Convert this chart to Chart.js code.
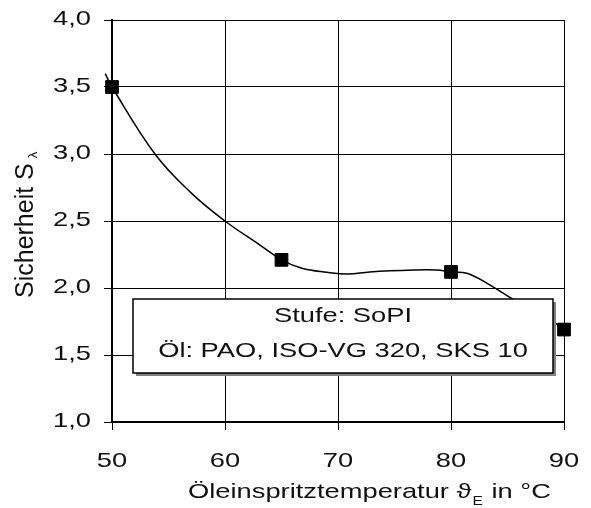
<!DOCTYPE html>
<html>
<head>
<meta charset="utf-8">
<script src="https://cdn.jsdelivr.net/npm/chart.js@4/dist/chart.umd.min.js"></script>
<style>
  html, body { margin: 0; padding: 0; background: #fff; }
  #wrap { width: 591px; height: 508px; }
</style>
</head>
<body>
<div id="wrap"><canvas id="myChart" width="591" height="508"></canvas></div>
<script>
// measured points (Oeleinspritztemperatur vs. Sicherheit)
const tempPoints = [50, 65, 80, 90];
const safetyPoints = [3.5, 2.21, 2.12, 1.69];

// trend curve drawn through the measurements
const curveTemps = [49.4, 50.0, 53.8, 57.0, 60.0, 63.1, 65.0, 66.8, 69.0, 70.9, 72.8, 76.7, 78.7, 80.0, 81.4, 83.2, 85.4, 89.6];
const curveSafety = [3.6, 3.5, 3.0, 2.71, 2.5, 2.32, 2.21, 2.147, 2.117, 2.104, 2.12, 2.134, 2.134, 2.12, 2.11, 2.035, 1.92, 1.72];

const xTicks = [50, 60, 70, 80, 90];
const xTickLabels = ['50', '60', '70', '80', '90'];
const yTicks = [1.0, 1.5, 2.0, 2.5, 3.0, 3.5, 4.0];
const yTickLabels = ['1,0', '1,5', '2,0', '2,5', '3,0', '3,5', '4,0'];

const boxLines = ['Stufe: SoPI', 'Öl: PAO, ISO-VG 320, SKS 10'];

const FONT = '"Liberation Sans", Arial, sans-serif';
const SX = 1.3; // the old excel fonts are rather wide

const toXY = (xs, ys) => xs.map((x, i) => ({ x: x, y: ys[i] }));

function wideText(ctx, text, x, y, align, size) {
  ctx.save();
  ctx.font = size + 'px ' + FONT;
  const w = ctx.measureText(text).width * SX;
  let x0 = x;
  if (align === 'right') x0 = x - w;
  if (align === 'center') x0 = x - w / 2;
  ctx.translate(x0, y);
  ctx.scale(SX, 1);
  ctx.textAlign = 'left';
  ctx.textBaseline = 'alphabetic';
  ctx.fillStyle = '#111';
  ctx.fillText(text, 0, 0);
  ctx.restore();
  return w;
}

const textPlugin = {
  id: 'texts',
  afterDraw(chart) {
    const ctx = chart.ctx;
    const xs = chart.scales.x, ys = chart.scales.y;

    xTicks.forEach((v, i) => wideText(ctx, xTickLabels[i], xs.getPixelForValue(v), 467, 'center', 21));
    yTicks.forEach((v, i) => wideText(ctx, yTickLabels[i], 91, ys.getPixelForValue(v) + 5, 'right', 21));

    // x title with subscript E
    let x = 188;
    x += wideText(ctx, 'Öleinspritztemperatur ', x, 498, 'left', 21);
    x += wideText(ctx, 'ϑ', x, 498, 'left', 21);
    x += wideText(ctx, 'E', x + 1, 505, 'left', 12);
    wideText(ctx, ' in °C', x + 2, 498, 'left', 21);

    // y title, rotated, with subscript lambda
    ctx.save();
    ctx.translate(33, 298);
    ctx.rotate(-Math.PI / 2);
    ctx.fillStyle = '#111';
    ctx.textBaseline = 'alphabetic';
    ctx.font = '25px ' + FONT;
    ctx.fillText('Sicherheit S', 0, 0);
    const w = ctx.measureText('Sicherheit S').width;
    ctx.font = '13px ' + FONT;
    ctx.fillText('λ', w + 5, 4);
    ctx.restore();

    // info box
    const bx = 133, by = 299, bw = 420, bh = 74;
    ctx.save();
    ctx.fillStyle = '#808080';
    ctx.fillRect(bx + 3, by + 3, bw, bh);
    ctx.fillStyle = '#fff';
    ctx.fillRect(bx, by, bw, bh);
    ctx.strokeStyle = '#000';
    ctx.lineWidth = 1.5;
    ctx.strokeRect(bx, by, bw, bh);
    ctx.restore();
    wideText(ctx, boxLines[0], bx + bw / 2, 322, 'center', 21);
    wideText(ctx, boxLines[1], bx + bw / 2, 357, 'center', 21);
  }
};

const ctx = document.getElementById('myChart').getContext('2d');
new Chart(ctx, {
  type: 'line',
  data: {
    datasets: [{
      label: 'Verlauf',
      data: toXY(curveTemps, curveSafety),
      borderColor: '#000',
      borderWidth: 1.5,
      pointRadius: 0,
      tension: 0.4,
      fill: false,
      clip: 12
    }, {
      label: 'Messung',
      data: toXY(tempPoints, safetyPoints),
      showLine: false,
      pointStyle: 'rect',
      pointRadius: 9,
      pointBackgroundColor: '#000',
      pointBorderColor: '#000',
      pointBorderWidth: 1,
      clip: 12
    }]
  },
  options: {
    responsive: false,
    animation: false,
    layout: { padding: { top: 20, right: 27, left: 0, bottom: 0 } },
    plugins: {
      legend: { display: false },
      tooltip: { enabled: false }
    },
    scales: {
      x: {
        type: 'linear',
        min: 50,
        max: 90,
        ticks: { stepSize: 10, display: false },
        grid: { color: '#000', lineWidth: 1, tickLength: 8, tickColor: '#000' },
        border: { color: '#000', width: 2 },
        afterFit: (scale) => { scale.height = 86; }
      },
      y: {
        min: 1,
        max: 4,
        ticks: { stepSize: 0.5, display: false },
        grid: { color: '#000', lineWidth: 1, tickLength: 8, tickColor: '#000' },
        border: { color: '#000', width: 2 },
        afterFit: (scale) => { scale.width = 112; }
      }
    }
  },
  plugins: [textPlugin]
});
</script>
</body>
</html>
